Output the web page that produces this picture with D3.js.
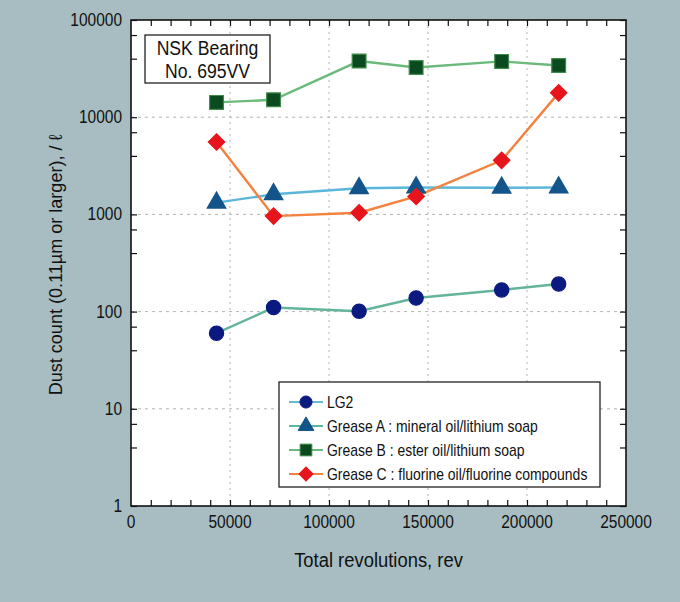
<!DOCTYPE html>
<html>
<head>
<meta charset="utf-8">
<script src="https://cdn.jsdelivr.net/npm/d3@7"></script>
<style>
  body { margin: 0; background: #a7bdc1; }
  svg { display: block; font-family: "Liberation Sans", Arial, sans-serif; }
</style>
</head>
<body>
<div id="vis"></div>
<script>
// data
const revs = [43200, 72000, 115200, 144000, 187200, 216000];
const lg2 = [60, 110, 101, 138, 167, 192];
const greaseA = [1320, 1610, 1860, 1890, 1880, 1890];
const greaseB = [14200, 15100, 37800, 32500, 37500, 34000];
const greaseC = [5550, 960, 1040, 1530, 3600, 17800];

const seriesNames = ["LG2", "Grease A : mineral oil/lithium soap", "Grease B : ester oil/lithium soap", "Grease C : fluorine oil/fluorine compounds"];
const xTicks = [0, 50000, 100000, 150000, 200000, 250000];
const yTicks = [1, 10, 100, 1000, 10000, 100000];
const yMinorSteps = [4, 7];

const margin = {top: 20, right: 54, bottom: 96, left: 131};
const W = 680, H = 602;
const width = W - margin.left - margin.right;
const height = H - margin.top - margin.bottom;

// diamond = square turned 45 degrees
const series = [
  {name: seriesNames[0], values: lg2, line: "#62b59a", legLine: "#6ab8d8", fill: "#0b1a80", stroke: "#0b1a80", shape: d3.symbolCircle, size: 160, rot: 0},
  {name: seriesNames[1], values: greaseA, line: "#5cb6dc", legLine: "#5cb6a0", fill: "#13548a", stroke: "#13548a", shape: d3.symbolTriangle, size: 150, rot: 0},
  {name: seriesNames[2], values: greaseB, line: "#6cb97c", legLine: "#6cb97c", fill: "#0b4a1e", stroke: "#3d8a4a", shape: d3.symbolSquare, size: 190, rot: 0},
  {name: seriesNames[3], values: greaseC, line: "#f3823f", legLine: "#f3823f", fill: "#e8141c", stroke: "#e8141c", shape: d3.symbolSquare, size: 135, rot: 45}
];

// squeeze text horizontally, the original uses a narrow typeface
function condense(sel, f) {
  sel.each(function() {
    const len = this.getComputedTextLength();
    d3.select(this).attr("textLength", len * f).attr("lengthAdjust", "spacingAndGlyphs");
  });
}

const svg = d3.select("#vis").append("svg")
  .attr("width", W).attr("height", H);

svg.append("rect").attr("width", W).attr("height", H).attr("fill", "#a7bdc1");

const g = svg.append("g").attr("transform", `translate(${margin.left},${margin.top})`);

const xScale = d3.scaleLinear().domain([0, 250000]).range([0, width]);
const yScale = d3.scaleLog().domain([1, 100000]).range([height, 0]);

g.append("rect").attr("width", width).attr("height", height).attr("fill", "#fff");

// dashed grid
g.selectAll(".xgrid").data(xTicks.slice(1, -1)).join("line")
  .attr("x1", d => xScale(d)).attr("x2", d => xScale(d))
  .attr("y1", 0).attr("y2", height)
  .attr("stroke", "#b4b4b4").attr("stroke-width", 1).attr("stroke-dasharray", "2,4");
g.selectAll(".ygrid").data(yTicks.slice(1, -1)).join("line")
  .attr("y1", d => yScale(d)).attr("y2", d => yScale(d))
  .attr("x1", 0).attr("x2", width)
  .attr("stroke", "#b4b4b4").attr("stroke-width", 1).attr("stroke-dasharray", "3,4");

// ticks on all four sides (inward)
const xMinor = d3.range(10000, 250000, 10000);
const yMinor = [];
yTicks.slice(0, -1).forEach(t => yMinorSteps.forEach(s => yMinor.push(t * s)));

g.append("g").attr("transform", `translate(0,${height})`)
  .call(d3.axisTop(xScale).tickValues(xMinor).tickSize(6).tickFormat(""))
  .call(a => a.select(".domain").remove());
g.append("g")
  .call(d3.axisBottom(xScale).tickValues(xMinor).tickSize(6).tickFormat(""))
  .call(a => a.select(".domain").remove());
g.append("g")
  .call(d3.axisRight(yScale).tickValues(yTicks.concat(yMinor)).tickSize(6).tickFormat(""))
  .call(a => a.select(".domain").remove());
g.append("g").attr("transform", `translate(${width},0)`)
  .call(d3.axisLeft(yScale).tickValues(yTicks.concat(yMinor)).tickSize(6).tickFormat(""))
  .call(a => a.select(".domain").remove());
g.selectAll(".tick line").attr("stroke", "#111").attr("stroke-width", 1.2);

// tick labels
g.selectAll(".xlab").data(xTicks).join("text")
  .attr("x", d => xScale(d)).attr("y", height + 22)
  .attr("text-anchor", "middle").attr("font-size", 18).attr("fill", "#111")
  .text(d => d)
  .call(condense, 0.86);
g.selectAll(".ylab").data(yTicks).join("text")
  .attr("x", -9).attr("y", d => yScale(d) + 6)
  .attr("text-anchor", "end").attr("font-size", 18).attr("fill", "#111")
  .text(d => d)
  .call(condense, 0.86);

// frame
g.append("rect").attr("width", width).attr("height", height)
  .attr("fill", "none").attr("stroke", "#111").attr("stroke-width", 1.6);

// axis titles
svg.append("text")
  .attr("x", margin.left + width / 2).attr("y", 567)
  .attr("text-anchor", "middle").attr("font-size", 20).attr("fill", "#111")
  .text("Total revolutions, rev")
  .call(condense, 0.92);
svg.append("text")
  .attr("transform", `translate(62,${margin.top + height / 2 + 2}) rotate(-90)`)
  .attr("text-anchor", "middle").attr("font-size", 19).attr("fill", "#111")
  .text("Dust count (0.11\u00b5m or larger), / \u2113")
  .call(condense, 0.95);

// lines and markers
const lineGen = d3.line()
  .x((d, i) => xScale(revs[i]))
  .y(d => yScale(d));

series.forEach(s => {
  g.append("path")
    .attr("d", lineGen(s.values))
    .attr("fill", "none").attr("stroke", s.line).attr("stroke-width", 2.4);
});
series.forEach(s => {
  g.selectAll(null).data(s.values).join("path")
    .attr("transform", (d, i) => `translate(${xScale(revs[i])},${yScale(d)}) rotate(${s.rot})`)
    .attr("d", d3.symbol().type(s.shape).size(s.size))
    .attr("fill", s.fill).attr("stroke", s.stroke).attr("stroke-width", 1.2);
});

// bearing label box
const box = svg.append("g").attr("transform", "translate(145,35)");
box.append("rect").attr("width", 125).attr("height", 48)
  .attr("fill", "#fff").attr("stroke", "#222").attr("stroke-width", 1.3);
box.append("text").attr("x", 62.5).attr("y", 20).attr("text-anchor", "middle")
  .attr("font-size", 20).attr("fill", "#111").text("NSK Bearing")
  .call(condense, 0.88);
box.append("text").attr("x", 62.5).attr("y", 43).attr("text-anchor", "middle")
  .attr("font-size", 20).attr("fill", "#111").text("No. 695VV")
  .call(condense, 0.88);

// legend
const legend = svg.append("g").attr("transform", "translate(279,382)");
legend.append("rect").attr("width", 321).attr("height", 105)
  .attr("fill", "#fff").attr("stroke", "#222").attr("stroke-width", 1.3);
const row = legend.selectAll(".row").data(series).join("g")
  .attr("transform", (d, i) => `translate(0,${20 + i * 24})`);
row.append("line").attr("x1", 10).attr("x2", 44)
  .attr("stroke", d => d.legLine).attr("stroke-width", 2.2);
row.append("path").attr("transform", d => `translate(27,0) rotate(${d.rot})`)
  .attr("d", d => d3.symbol().type(d.shape).size(d.size * 0.72)())
  .attr("fill", d => d.fill).attr("stroke", d => d.stroke);
row.append("text").attr("x", 48).attr("y", 6)
  .attr("font-size", 17).attr("fill", "#111")
  .text(d => d.name)
  .call(condense, 0.82);
</script>
</body>
</html>
